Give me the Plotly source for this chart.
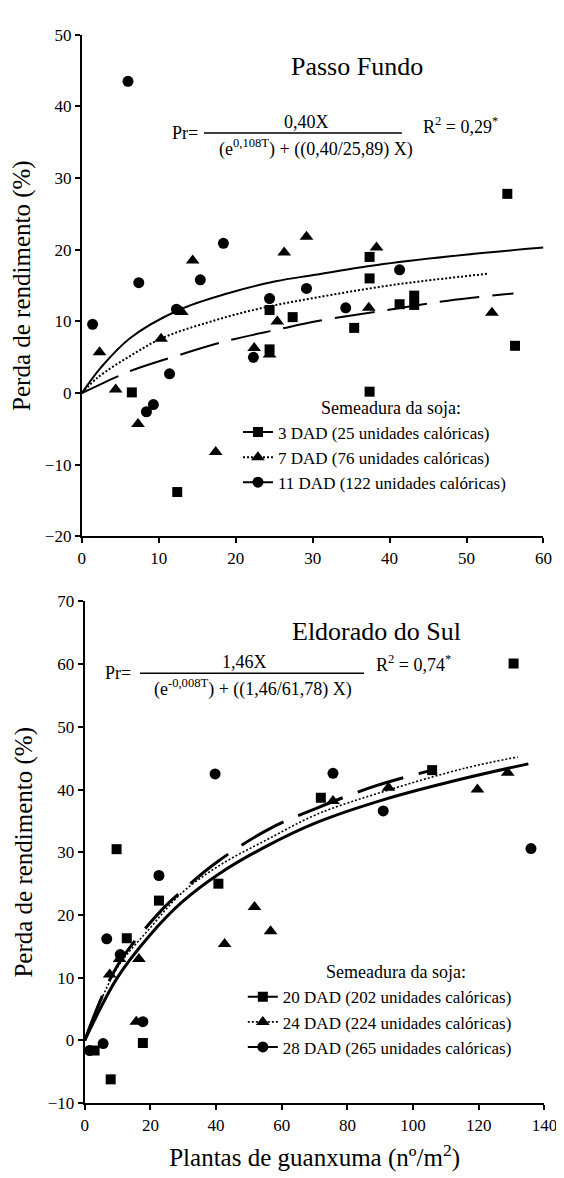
import plotly.graph_objects as go

# ---------------- data: Passo Fundo ----------------
pf_x_3dad = [6.5, 12.4, 24.4, 24.4, 27.4, 35.4, 37.4, 37.4, 37.4, 41.3, 43.2, 43.2, 55.3, 56.3]
pf_y_3dad = [0.1, -13.8, 11.6, 6.1, 10.6, 9.1, 19.0, 16.0, 0.2, 12.4, 13.6, 12.3, 27.8, 6.6]
pf_x_7dad = [2.3, 4.4, 7.3, 10.3, 13.0, 14.4, 17.4, 22.4, 24.4, 25.4, 26.3, 29.2, 37.3, 38.3, 53.3]
pf_y_7dad = [5.7, 0.5, -4.3, 7.6, 11.3, 18.5, -8.2, 6.3, 5.4, 10.0, 19.6, 21.8, 11.9, 20.3, 11.2]
pf_x_11dad = [1.4, 6.0, 7.4, 8.4, 9.3, 11.4, 12.3, 15.4, 18.4, 22.3, 24.4, 29.2, 34.3, 41.3, 60.3]
pf_y_11dad = [9.6, 43.5, 15.4, -2.6, -1.6, 2.7, 11.7, 15.8, 20.9, 5.0, 13.2, 14.6, 11.9, 17.2, 14.6]

# fitted curves
pf_cx_3dad = [0, 5.0, 7.1, 12.0, 18.9, 25.6, 30.3, 39.2, 47.6, 56.1]
pf_cy_3dad = [0, 2.5, 3.4, 5.1, 7.3, 8.9, 10.0, 11.5, 12.9, 13.9]
pf_cx_7dad = [0, 2.1, 6.3, 10.5, 16.8, 23.1, 30.3, 40.5, 52.7]
pf_cy_7dad = [0, 2.2, 5.2, 7.7, 10.0, 11.8, 13.3, 15.1, 16.65]
pf_cx_11dad = [0, 2.5, 6.3, 12.6, 18.9, 25.2, 30.3, 39.2, 49.8, 60.0]
pf_cy_11dad = [0, 3.6, 7.7, 11.6, 13.9, 15.6, 16.5, 18.0, 19.3, 20.3]

# ---------------- data: Eldorado do Sul ----------------
es_x_20dad = [3.0, 7.9, 9.7, 12.8, 17.7, 22.6, 40.7, 71.9, 105.8, 130.6]
es_y_20dad = [-1.6, -6.2, 30.5, 16.3, -0.4, 22.3, 25.0, 38.7, 43.1, 60.1]
es_x_24dad = [7.6, 10.6, 15.7, 16.5, 42.6, 51.7, 56.6, 75.6, 92.5, 119.6, 128.8]
es_y_24dad = [10.5, 13.0, 3.0, 13.0, 15.4, 21.3, 17.4, 38.2, 40.3, 40.0, 42.7]
es_x_28dad = [1.5, 5.6, 6.7, 10.8, 17.7, 22.6, 39.7, 75.6, 90.9, 135.9]
es_y_28dad = [-1.6, -0.5, 16.2, 13.7, 3.0, 26.3, 42.5, 42.6, 36.6, 30.6]

es_cx_20dad = [0, 9.8, 23.6, 29.5, 40.4, 56.1, 70.9, 88.1, 105.8]
es_cy_20dad = [0, 11.8, 20.9, 23.8, 28.5, 33.7, 37.1, 40.5, 43.1]
es_cx_24dad = [0, 9.8, 19.7, 29.5, 41.3, 55.1, 70.9, 91.1, 115.7, 131.9]
es_cy_24dad = [0, 11.5, 17.8, 23.5, 28.0, 31.9, 36.1, 39.7, 43.4, 45.2]
es_cx_28dad = [0, 9.8, 19.7, 29.5, 41.3, 55.1, 70.9, 91.1, 115.7, 135.1]
es_cy_28dad = [0, 9.9, 16.7, 22.0, 26.7, 30.9, 34.8, 38.4, 41.8, 44.1]

pf_labels = ["3 DAD (25 unidades calóricas)", "7 DAD (76 unidades calóricas)",
             "11 DAD (122 unidades calóricas)"]
es_labels = ["20 DAD (202 unidades calóricas)", "24 DAD (224 unidades calóricas)",
             "28 DAD (265 unidades calóricas)"]

# ---------------- layout helpers ----------------
W, H = 564, 1178
FONT = "Times New Roman, Liberation Serif, serif"
def px(x):
    return x / W
def py(y):
    return 1 - y / H

fig = go.Figure()

symbols = ["square", "triangle-up", "circle"]
msizes = [10, 12, 11]

def add_panel(xs, ys, cxs, cys, labels, dashes, widths, xa, ya, legend):
    for x, y, s, ms in zip(xs, ys, symbols, msizes):
        fig.add_trace(go.Scatter(x=x, y=y, mode="markers", xaxis=xa, yaxis=ya,
                                 marker=dict(symbol=s, size=ms, color="black"),
                                 showlegend=False, cliponaxis=False, hoverinfo="x+y"))
    for cx, cy, d, w in zip(cxs, cys, dashes, widths):
        fig.add_trace(go.Scatter(x=cx, y=cy, mode="lines", xaxis=xa, yaxis=ya,
                                 line=dict(color="black", width=w, dash=d, shape="spline"),
                                 showlegend=False, hoverinfo="skip"))
    for lab, s, ms, d, w in zip(labels, symbols, msizes, dashes, widths):
        fig.add_trace(go.Scatter(x=[None], y=[None], mode="lines+markers", xaxis=xa, yaxis=ya,
                                 name=lab, legend=legend,
                                 marker=dict(symbol=s, size=ms, color="black"),
                                 line=dict(color="black", width=min(w, 2), dash=d)))

add_panel([pf_x_3dad, pf_x_7dad, pf_x_11dad], [pf_y_3dad, pf_y_7dad, pf_y_11dad],
          [pf_cx_3dad, pf_cx_7dad, pf_cx_11dad], [pf_cy_3dad, pf_cy_7dad, pf_cy_11dad],
          pf_labels, ["40px,13px", "2px,2px", "solid"], [2, 2, 2], "x", "y", "legend")
add_panel([es_x_20dad, es_x_24dad, es_x_28dad], [es_y_20dad, es_y_24dad, es_y_28dad],
          [es_cx_20dad, es_cx_24dad, es_cx_28dad], [es_cy_20dad, es_cy_24dad, es_cy_28dad],
          es_labels, ["48px,16px", "2px,2px", "solid"], [3, 1.6, 3], "x2", "y2", "legend2")

axis_common = dict(showline=True, linecolor="black", linewidth=2, ticks="outside",
                   ticklen=5, tickwidth=2, tickcolor="black", showgrid=False,
                   zeroline=False, tickfont=dict(family=FONT, size=17, color="black"))

ytitle = dict(text="Perda de rendimento (%)", font=dict(family=FONT, size=25, color="black"),
              standoff=8)

fig.update_layout(
    width=W, height=H, autosize=False,
    margin=dict(l=0, r=0, t=0, b=0),
    paper_bgcolor="white", plot_bgcolor="white",
    font=dict(family=FONT, color="black"),
    xaxis=dict(domain=[px(72), px(548)], range=[0, 60], tickvals=[0, 10, 20, 30, 40, 50, 60],
               anchor="y", **axis_common),
    yaxis=dict(domain=[py(528), py(18)], range=[-20, 50],
               tickvals=[-20, -10, 0, 10, 20, 30, 40, 50], anchor="x",
               title=ytitle, **axis_common),
    xaxis2=dict(domain=[px(75), px(549)], range=[0, 140],
                tickvals=[0, 20, 40, 60, 80, 100, 120, 140], anchor="y2",
                title=dict(text="Plantas de guanxuma (nº/m<sup>2</sup>)",
                           font=dict(family=FONT, size=25, color="black")),
                **axis_common),
    yaxis2=dict(domain=[py(1104), py(594)], range=[-10, 70],
                tickvals=[-10, 0, 10, 20, 30, 40, 50, 60, 70], anchor="x2",
                title=ytitle, **axis_common),
    legend=dict(x=px(233), y=py(404), xanchor="left", yanchor="top",
                bgcolor="rgba(0,0,0,0)", font=dict(family=FONT, size=17, color="black"),
                itemwidth=30, tracegroupgap=0),
    legend2=dict(x=px(238), y=py(978), xanchor="left", yanchor="top",
                 bgcolor="rgba(0,0,0,0)", font=dict(family=FONT, size=17, color="black"),
                 itemwidth=30, tracegroupgap=0),
    showlegend=True,
)

ann = []
def text(x, y, t, size=18, xanchor="center"):
    ann.append(dict(x=px(x), y=py(y), xref="paper", yref="paper", text=t, showarrow=False,
                    xanchor=xanchor, yanchor="middle",
                    font=dict(family=FONT, size=size, color="black")))

# titles
text(356, 50, "Passo Fundo", size=26)
text(376, 625, "Eldorado do Sul", size=26)
# legend headers
text(391, 397, "Semeadura da soja:", size=18)
text(396, 971, "Semeadura da soja:", size=18)
# equation Passo Fundo
text(178, 118, "Pr=")
text(304, 107, "0,40X")
text(313, 133, "(e<sup>0,108T</sup>) + ((0,40/25,89) X)")
text(422, 110, "R<sup>2</sup> = 0,29<sup>*</sup>", xanchor="left")
# equation Eldorado do Sul
text(109, 667, "Pr=")
text(240, 656, "1,46X")
text(249, 682, "(e<sup>-0,008T</sup>) + ((1,46/61,78) X)")
text(373, 657, "R<sup>2</sup> = 0,74<sup>*</sup>", xanchor="left")

fig.update_layout(annotations=ann)

fig.add_shape(type="line", xref="paper", yref="paper", x0=px(198), x1=px(402),
              y0=py(118), y1=py(118), line=dict(color="black", width=1.5))
fig.add_shape(type="line", xref="paper", yref="paper", x0=px(132), x1=px(363),
              y0=py(667), y1=py(667), line=dict(color="black", width=1.5))

fig.write_html("out.html")
